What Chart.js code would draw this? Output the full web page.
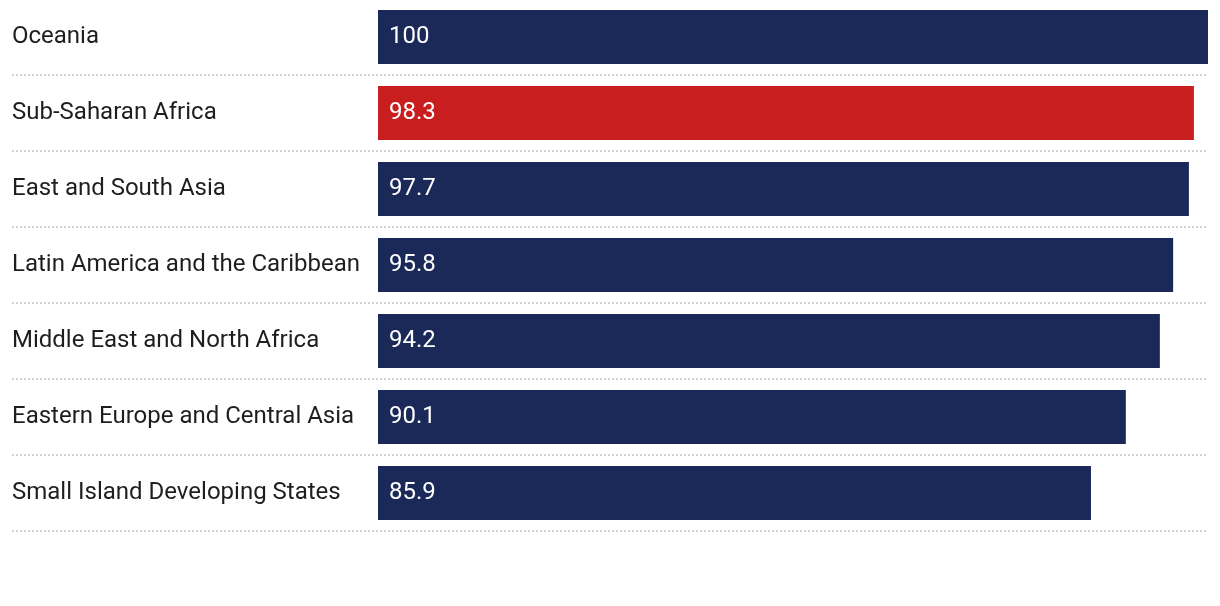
<!DOCTYPE html>
<html>
<head>
<meta charset="utf-8">
<script src="https://cdn.jsdelivr.net/npm/chart.js@4/dist/chart.umd.min.js"></script>
<style>
  html, body { margin: 0; padding: 0; background: #fff; overflow: hidden; }
  #wrap { width: 1220px; height: 606px; overflow: hidden; }
  #chart { display: block; margin-top: -1px; }
</style>
</head>
<body>
<div id="wrap"><canvas id="chart" width="1220" height="607"></canvas></div>
<script>
const regions = [
  'Oceania',
  'Sub-Saharan Africa',
  'East and South Asia',
  'Latin America and the Caribbean',
  'Middle East and North Africa',
  'Eastern Europe and Central Asia',
  'Small Island Developing States'
];
const scores = [100, 98.3, 97.7, 95.8, 94.2, 90.1, 85.9];
const highlight = 'Sub-Saharan Africa';

const NAVY = '#1b2959';
const RED = '#c81e1f';
const FONT = 'Roboto, "Noto Sans", sans-serif';

// dotted separators between rows, running under the labels too
const rowLines = {
  id: 'rowLines',
  beforeDatasetsDraw(chart) {
    const y = chart.scales.y;
    const ctx = chart.ctx;
    const step = y.getPixelForValue(1) - y.getPixelForValue(0);
    ctx.save();
    ctx.strokeStyle = '#d2d2d2';
    ctx.lineWidth = 2;
    ctx.setLineDash([2, 2]);
    for (let i = 0; i < regions.length; i++) {
      const py = Math.round(y.getPixelForValue(i) + step / 2);
      ctx.beginPath();
      ctx.moveTo(y.left, py);
      ctx.lineTo(chart.chartArea.right, py);
      ctx.stroke();
    }
    ctx.restore();
  }
};

// value labels inside the bars, near the base
const valueLabels = {
  id: 'valueLabels',
  afterDatasetsDraw(chart) {
    const ctx = chart.ctx;
    const meta = chart.getDatasetMeta(0);
    ctx.save();
    ctx.fillStyle = '#ffffff';
    ctx.font = '24px ' + FONT;
    ctx.textAlign = 'left';
    ctx.textBaseline = 'middle';
    meta.data.forEach((bar, i) => {
      ctx.fillText(String(scores[i]), bar.base + 11, bar.y);
    });
    ctx.restore();
  }
};

new Chart(document.getElementById('chart'), {
  type: 'bar',
  data: {
    labels: regions,
    datasets: [{
      data: scores,
      backgroundColor: regions.map((r) => (r === highlight ? RED : NAVY)),
      categoryPercentage: 1,
      barPercentage: 54 / 76,
      borderWidth: 0
    }]
  },
  options: {
    indexAxis: 'y',
    responsive: false,
    animation: false,
    layout: { padding: { left: 12, right: 12, top: 0, bottom: 75 } },
    plugins: { legend: { display: false }, tooltip: { enabled: false } },
    scales: {
      x: { display: false, min: 0, max: 100 },
      y: {
        grid: { display: false },
        border: { display: false },
        ticks: {
          crossAlign: 'far',
          color: '#1e1e1e',
          font: { family: FONT, size: 24 },
          padding: 0
        },
        afterFit(scale) {
          scale.width = 366;
          scale.paddingTop = 0;
          scale.paddingBottom = 0;
        }
      }
    }
  },
  plugins: [rowLines, valueLabels]
});
</script>
</body>
</html>
